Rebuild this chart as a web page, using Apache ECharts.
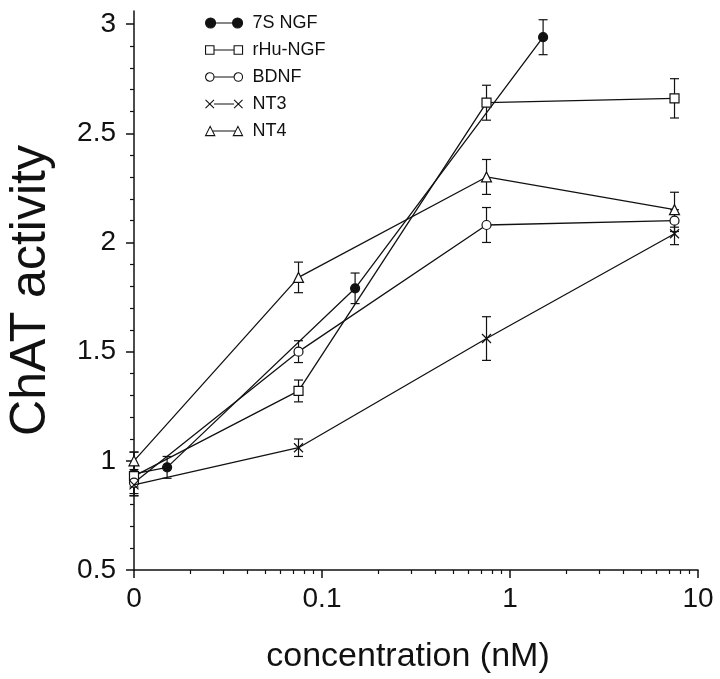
<!DOCTYPE html>
<html><head><meta charset="utf-8">
<script src="https://cdn.jsdelivr.net/npm/echarts@6/dist/echarts.min.js"></script>
<style>html,body{margin:0;padding:0;background:#fff}#c{width:720px;height:679px}</style>
</head><body><div id="c"></div>
<script>
// ---- data (concentration in nM; 0 = control) ----
const seriesNames = ['7S NGF', 'rHu-NGF', 'BDNF', 'NT3', 'NT4'];
const concNGF = [0, 0.015, 0.15, 1.5];
const concOther = [0, 0.075, 0.75, 7.5];
const ngf7S = [0.94, 0.97, 1.79, 2.94];
const ngf7SErr = [0.10, 0.05, 0.07, 0.08];
const rhuNGF = [0.93, 1.32, 2.64, 2.66];
const rhuNGFErr = [0.05, 0.05, 0.08, 0.09];
const bdnf = [0.90, 1.50, 2.08, 2.10];
const bdnfErr = [0.05, 0.05, 0.08, 0.05];
const nt3 = [0.89, 1.06, 1.56, 2.04];
const nt3Err = [0.05, 0.04, 0.10, 0.05];
const nt4 = [1.00, 1.84, 2.30, 2.15];
const nt4Err = [0.04, 0.07, 0.08, 0.08];
const xTickValues = [0, 0.1, 1, 10];
const xTickLabels = ['0', '0.1', '1', '10'];
const yTickLabels = [0.5, 1, 1.5, 2, 2.5, 3];

// ---- helpers ----
const FONT = '"Liberation Sans", Arial, Helvetica, sans-serif';
const INK = '#111';
const ZERO_POS = -2; // position on the log axis where the control (0) is drawn
function xPos(c) { return c === 0 ? ZERO_POS : Math.log10(c); }
const xMajor = xTickValues.map(xPos);
const xMinor = [];
for (let n = -2; n <= 0; n++) for (let k = 2; k <= 9; k++) xMinor.push(Math.log10(k * Math.pow(10, n)));
const yMinor = [];
for (let v = 6; v <= 30; v++) if (v % 5 !== 0) yMinor.push(v / 10);

const symbols = {
  '7S NGF': 'circle',
  'rHu-NGF': 'rect',
  'BDNF': 'circle',
  'NT3': 'path://M0,0L10,10M0,10L10,0',
  'NT4': 'triangle'
};
const legendIcons = {
  '7S NGF': 'path://M0,5A5,5,0,1,1,10,5A5,5,0,1,1,0,5Z M27,5A5,5,0,1,1,37,5A5,5,0,1,1,27,5Z M10,5L27,5',
  'rHu-NGF': 'path://M1,1L9,1L9,9L1,9Z M28,1L36,1L36,9L28,9Z M9,5L28,5',
  'BDNF': 'path://M1,5A4,4,0,1,1,9,5A4,4,0,1,1,1,5Z M28,5A4,4,0,1,1,36,5A4,4,0,1,1,28,5Z M9,5L28,5',
  'NT3': 'path://M1,1L9,9M1,9L9,1 M9,5L28,5 M28,1L36,9M28,9L36,1',
  'NT4': 'path://M5,0.5L9.5,9.5L0.5,9.5Z M32,0.5L36.5,9.5L27.5,9.5Z M7,5L30,5'
};

const groups = [
  {name: '7S NGF', x: concNGF, y: ngf7S, e: ngf7SErr, filled: true},
  {name: 'rHu-NGF', x: concOther, y: rhuNGF, e: rhuNGFErr},
  {name: 'BDNF', x: concOther, y: bdnf, e: bdnfErr},
  {name: 'NT3', x: concOther, y: nt3, e: nt3Err},
  {name: 'NT4', x: concOther, y: nt4, e: nt4Err}
];

function errRender(params, api) {
  const x = api.value(0), lo = api.value(1), hi = api.value(2);
  const pLo = api.coord([x, lo]), pHi = api.coord([x, hi]);
  const w = 4.5;
  const st = {stroke: INK, lineWidth: 1.2, fill: null};
  return {type: 'group', children: [
    {type: 'line', shape: {x1: pLo[0], y1: pLo[1], x2: pHi[0], y2: pHi[1]}, style: st},
    {type: 'line', shape: {x1: pLo[0] - w, y1: pLo[1], x2: pLo[0] + w, y2: pLo[1]}, style: st},
    {type: 'line', shape: {x1: pHi[0] - w, y1: pHi[1], x2: pHi[0] + w, y2: pHi[1]}, style: st}
  ]};
}

const series = [];
groups.forEach(g => {
  series.push({
    name: g.name + ' error', type: 'custom', xAxisIndex: 0, yAxisIndex: 0, z: 2,
    renderItem: errRender, encode: {x: 0, y: [1, 2]},
    data: g.x.map((c, i) => [xPos(c), g.y[i] - g.e[i], g.y[i] + g.e[i]]),
    silent: true
  });
});
groups.forEach((g, gi) => {
  series.push({
    name: g.name, type: 'line', xAxisIndex: 0, yAxisIndex: 0, z: 3 + gi,
    symbol: symbols[g.name],
    symbolSize: g.name === 'NT4' ? 10 : 9,
    showAllSymbol: true,
    lineStyle: {color: INK, width: 1.3},
    itemStyle: {color: g.filled ? INK : '#fff', borderColor: INK, borderWidth: 1.2},
    emphasis: {disabled: true},
    data: g.x.map((c, i) => [xPos(c), g.y[i]])
  });
});

const axisLineStyle = {color: INK, width: 1.5};
const option = {
  backgroundColor: '#fff',
  animation: false,
  grid: {left: 134, right: 22, top: 11, bottom: 109, outerBoundsMode: 'none', containLabel: false},
  legend: {
    orient: 'vertical', left: 205, top: 13, padding: 0, itemGap: 7,
    itemWidth: 37, itemHeight: 10, selectedMode: false,
    textStyle: {fontFamily: FONT, fontSize: 18, color: INK, lineHeight: 20, padding: [0, 0, 0, 5]},
    itemStyle: {borderWidth: 1.1},
    data: seriesNames.map(n => ({name: n, icon: legendIcons[n]}))
  },
  xAxis: [
    {
      type: 'value', position: 'bottom', min: -2, max: 1,
      name: 'concentration (nM)', nameLocation: 'middle', nameGap: 70,
      nameTextStyle: {fontFamily: FONT, fontSize: 34, color: INK, padding: [0, 16, 0, 0]},
      axisLine: {show: true, onZero: false, lineStyle: axisLineStyle},
      axisTick: {show: true, inside: false, length: 8, lineStyle: {color: INK, width: 1.5}, customValues: xMajor},
      axisLabel: {
        show: true, margin: 15, fontFamily: FONT, fontSize: 28, color: INK, customValues: xMajor,
        formatter: v => { const i = xMajor.findIndex(m => Math.abs(m - v) < 1e-6); return i >= 0 ? xTickLabels[i] : ''; }
      },
      splitLine: {show: false}
    },
    {
      type: 'value', position: 'bottom', min: -2, max: 1, gridIndex: 0,
      axisLine: {show: false, onZero: false},
      axisTick: {show: true, inside: false, length: 4, lineStyle: {color: INK, width: 1.2}, customValues: xMinor},
      axisLabel: {show: false},
      splitLine: {show: false}
    }
  ],
  yAxis: [
    {
      type: 'value', position: 'left', min: 0.5, max: 3.06,
      name: 'ChAT activity', nameLocation: 'middle', nameGap: 78, nameRotate: 90,
      nameTextStyle: {fontFamily: FONT, fontSize: 50, color: INK},
      axisLine: {show: true, onZero: false, lineStyle: axisLineStyle},
      axisTick: {show: true, inside: false, length: 8, lineStyle: {color: INK, width: 1.5}, customValues: yTickLabels},
      axisLabel: {show: true, margin: 18, fontFamily: FONT, fontSize: 28, color: INK, customValues: yTickLabels,
        formatter: v => String(Math.round(v * 10) / 10)},
      splitLine: {show: false}
    },
    {
      type: 'value', position: 'left', min: 0.5, max: 3.06, gridIndex: 0, offset: 0,
      axisLine: {show: false, onZero: false},
      axisTick: {show: true, inside: false, length: 4, lineStyle: {color: INK, width: 1.2}, customValues: yMinor},
      axisLabel: {show: false},
      splitLine: {show: false}
    }
  ],
  series: series
};
const chart = echarts.init(document.getElementById('c'), null, {renderer: 'canvas'});
chart.setOption(option);
</script>
</body></html>
